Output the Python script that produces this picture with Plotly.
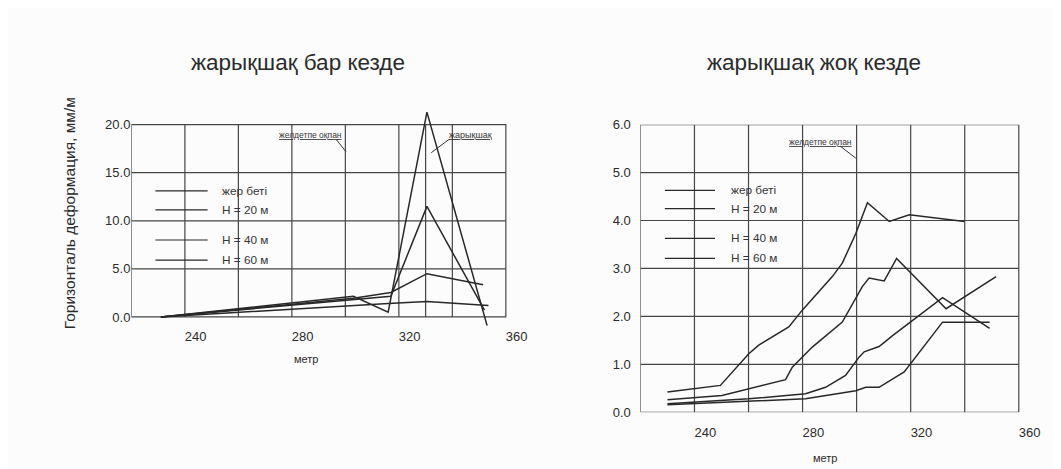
import plotly.graph_objects as go

# ---------------- data ----------------
legend_labels = ["жер беті", "Н = 20 м", "Н = 40 м", "Н = 60 м"]
titles = ["жарықшақ бар кезде", "жарықшақ жоқ кезде"]
x_ticks = [240, 280, 320, 360]
left_y_ticks = [0, 5, 10, 15, 20]
right_y_ticks = [0, 1, 2, 3, 4, 5, 6]

# left panel (with crack)
L_surface_x = [227, 299, 312, 326.5, 349]
L_surface_y = [0, 2.15, 0.5, 21.3, -0.9]
L_h20_x = [227, 299, 313, 326.5, 348]
L_h20_y = [0, 1.85, 2.15, 11.5, 0.7]
L_h40_x = [227, 299, 313, 326.5, 347.5]
L_h40_y = [0, 1.95, 2.55, 4.5, 3.35]
L_h60_x = [227, 299, 312, 326.5, 349.5]
L_h60_y = [0, 1.25, 1.4, 1.6, 1.2]

# right panel (without crack)
R_surface_x = [226, 245.6, 256.1, 259.8, 270.9, 275.9, 287.0, 290.7, 295.7, 300.0, 308.1, 315.5, 335.9]
R_surface_y = [0.42, 0.56, 1.22, 1.40, 1.78, 2.13, 2.83, 3.11, 3.73, 4.37, 3.98, 4.12, 3.98]
R_h20_x = [226, 246.2, 269.7, 272.2, 279.6, 290.7, 298.1, 300.6, 306.2, 310.8, 329.1, 347.6]
R_h20_y = [0.26, 0.35, 0.68, 0.94, 1.36, 1.88, 2.62, 2.80, 2.74, 3.21, 2.16, 2.83]
R_h40_x = [226, 256.1, 277.1, 284.5, 291.9, 296.9, 298.8, 304.3, 309.3, 327.8, 345.2]
R_h40_y = [0.175, 0.28, 0.385, 0.52, 0.77, 1.15, 1.26, 1.37, 1.6, 2.39, 1.75]
R_h60_x = [226, 277.1, 295.7, 299.4, 304.3, 313.6, 327.8, 345.2]
R_h60_y = [0.155, 0.28, 0.45, 0.52, 0.52, 0.84, 1.88, 1.88]

# grid / frame (data units)
frame_x = [216, 356]
left_vgrid = [236, 256, 276, 296, 316, 326, 336]
left_hgrid = [5, 10, 15]
right_vgrid = [236, 256, 276, 296, 316, 336]
right_hgrid = [1, 2, 3, 4, 5]

# ---------------- layout helpers ----------------
OFF = 8                 # page body margin
W, H = 1053, 470        # figure size
SX, SY, BY = 0.9925, 0.965, 8.0   # observed page -> picture mapping


def page(px, py):
    """target picture pixel -> page pixel"""
    return px / SX, (py - BY) / SY


def P(px, py):
    """target picture pixel -> paper coords"""
    X, Y = page(px, py)
    return (X - OFF) / W, 1 - (Y - OFF) / H


def DX(p0, p1):
    return [P(p0, 0)[0], P(p1, 0)[0]]


def DY(top, bottom):
    return [P(0, bottom)[1], P(0, top)[1]]


# ---------------- style ----------------
LINE = "#282828"
GRID = "#464646"
TXT = "#2b2b2b"
FONT = "Liberation Sans, Arial, sans-serif"

fig = go.Figure()

left_series = [(L_surface_x, L_surface_y), (L_h20_x, L_h20_y), (L_h40_x, L_h40_y), (L_h60_x, L_h60_y)]
right_series = [(R_surface_x, R_surface_y), (R_h20_x, R_h20_y), (R_h40_x, R_h40_y), (R_h60_x, R_h60_y)]

for (xs, ys), name in zip(left_series, legend_labels):
    fig.add_trace(go.Scatter(x=xs, y=ys, mode="lines", name=name, xaxis="x", yaxis="y",
                             line=dict(color=LINE, width=1.5), showlegend=False))
for (xs, ys), name in zip(right_series, legend_labels):
    fig.add_trace(go.Scatter(x=xs, y=ys, mode="lines", name=name, xaxis="x2", yaxis="y2",
                             line=dict(color=LINE, width=1.5), showlegend=False))

shapes = []


def grid(xref, yref, vlist, hlist, ytop):
    shapes.append(dict(type="rect", xref=xref, yref=yref, x0=frame_x[0], x1=frame_x[1], y0=0, y1=ytop,
                       line=dict(color=GRID, width=1.2), layer="below"))
    for v in vlist:
        shapes.append(dict(type="line", xref=xref, yref=yref, x0=v, x1=v, y0=0, y1=ytop,
                           line=dict(color=GRID, width=1.2), layer="below"))
    for h in hlist:
        shapes.append(dict(type="line", xref=xref, yref=yref, x0=frame_x[0], x1=frame_x[1], y0=h, y1=h,
                           line=dict(color=GRID, width=1.2), layer="below"))


grid("x", "y", left_vgrid, left_hgrid, 20)
grid("x2", "y2", right_vgrid, right_hgrid, 6)

annotations = []


def legend(x0, x1, xt, rows):
    for lab, py in zip(legend_labels, rows):
        a, b = P(x0, py)
        c, _ = P(x1, py)
        shapes.append(dict(type="line", xref="paper", yref="paper", x0=a, x1=c, y0=b, y1=b,
                           line=dict(color=LINE, width=1.2)))
        tx, ty = P(xt, py)
        annotations.append(dict(text=lab, x=tx, y=ty, xref="paper", yref="paper", xanchor="left",
                                yanchor="middle", showarrow=False,
                                font=dict(size=11.8, color="#363636", family=FONT)))


legend(155, 207, 219, [191, 210, 240, 260])
legend(663, 713, 727, [190.5, 208.7, 238.3, 258.3])

# titles
for t, cx in zip(titles, [297.5, 811.5]):
    x, y = P(cx, 63)
    annotations.append(dict(text=t, x=x, y=y, xref="paper", yref="paper", showarrow=False,
                            xanchor="center", yanchor="middle",
                            font=dict(size=22.5, color=TXT, family=FONT)))

# y axis title
x, y = P(70, 213)
annotations.append(dict(text="Горизонталь деформация, мм/м", x=x, y=y, xref="paper", yref="paper",
                        textangle=-90, showarrow=False, xanchor="center", yanchor="middle",
                        font=dict(size=15.5, color=TXT, family=FONT)))

# x axis titles
for cx, cy in [(305, 359), (823, 457)]:
    x, y = P(cx, cy)
    annotations.append(dict(text="метр", x=x, y=y, xref="paper", yref="paper", showarrow=False,
                            xanchor="center", yanchor="middle",
                            font=dict(size=11, color=TXT, family=FONT)))


def callout(text, size, cx, cy, lx0, ly0, lx1, ly1):
    x, y = P(cx, cy)
    annotations.append(dict(text="<u>" + text + "</u>", x=x, y=y, xref="paper", yref="paper",
                            showarrow=False, xanchor="center", yanchor="middle",
                            font=dict(size=size, color="#363636", family=FONT)))
    a, b = P(lx0, ly0)
    c, d = P(lx1, ly1)
    shapes.append(dict(type="line", xref="paper", yref="paper", x0=a, y0=b, x1=c, y1=d,
                       line=dict(color="#363636", width=1)))


callout("желдетпе оқпан", 8.5, 310, 135, 335, 139.5, 345, 152)
callout("жарықшақ", 9, 469, 135, 448, 139.5, 430, 153)
callout("желдетпе оқпан", 8.5, 818, 142.5, 838, 146.5, 853.5, 158.5)

axis_font = dict(size=13, color=TXT, family=FONT)
fig.update_layout(
    width=W, height=H,
    margin=dict(l=0, r=0, t=0, b=0),
    paper_bgcolor="#fcfcfc", plot_bgcolor="rgba(0,0,0,0)",
    shapes=shapes, annotations=annotations,
    xaxis=dict(domain=DX(131, 520.4), range=[216, 362], tickvals=x_ticks,
               showgrid=False, zeroline=False, showline=False, ticks="",
               tickfont=axis_font, anchor="y"),
    yaxis=dict(domain=DY(109.66, 326.3), range=[-1.0, 21.6], tickvals=left_y_ticks,
               tickformat=".1f", showgrid=False, zeroline=False, showline=False, ticks="",
               tickfont=axis_font, anchor="x"),
    xaxis2=dict(domain=DX(638.6, 1032.1), range=[216, 362], tickvals=x_ticks,
                showgrid=False, zeroline=False, showline=False, ticks="outside", ticklen=8,
                tickcolor="rgba(0,0,0,0)", tickfont=axis_font, anchor="y2"),
    yaxis2=dict(domain=DY(125, 411.7), range=[0, 6], tickvals=right_y_ticks,
                tickformat=".1f", showgrid=False, zeroline=False, showline=False, ticks="outside",
                ticklen=6, tickcolor="rgba(0,0,0,0)", tickfont=axis_font, anchor="x2"),
)

fig.write_html("out.html")
